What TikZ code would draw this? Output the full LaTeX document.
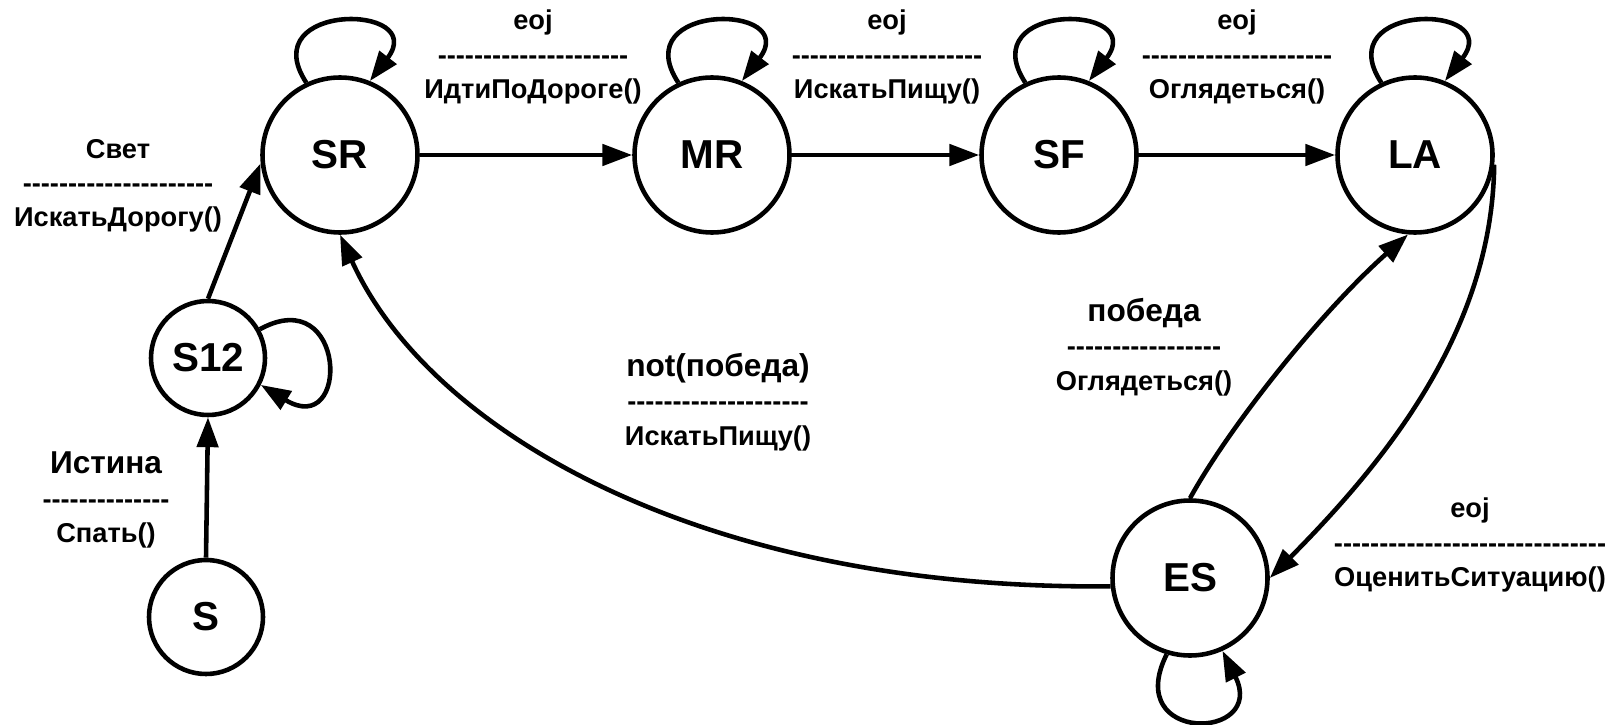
\documentclass[tikz,border=0pt]{standalone}
\usepackage{fontspec}
\newfontfamily\diafont{Liberation Sans}[Ligatures=TeXOff]
\usetikzlibrary{arrows.meta}

\begin{document}
\begin{tikzpicture}[
  x=1cm,
  y=1cm,
  line/.style={draw=black,line width=2.6pt},
  arrow/.style={line,-{Triangle[length=17pt,width=12pt]}},
  state/.style={line,circle,minimum size=3.1cm,inner sep=0pt,
                font=\diafont\bfseries\fontsize{23}{27}\selectfont},
  smallstate/.style={state,minimum size=2.28cm},
  trans/.style={align=center,inner sep=0pt,
                font=\diafont\bfseries\fontsize{15.5}{19.5}\selectfont}
]
\useasboundingbox (0,0) rectangle (32.34,14.48);

% ---------------------------------------------------------------- states
\node[state] (sr) at (6.80,11.38) {SR};
\node[state] (mr) at (14.24,11.38) {MR};
\node[state] (sf) at (21.18,11.38) {SF};
\node[state] (la) at (28.30,11.38) {LA};
\node[smallstate] (s12) at (4.16,7.32) {S12};
\node[smallstate] (s) at (4.12,2.14) {S};
\node[state] (es) at (23.80,2.92) {ES};

% ---------------------------------------------------------------- main row
\draw[arrow] (sr.east) -- (mr.west);
\draw[arrow] (mr.east) -- (sf.west);
\draw[arrow] (sf.east) -- (la.west);
\node[trans] (t1) at (10.66,13.34) {eoj\\---------------------\\ИдтиПоДороге()};
\node[trans] (t2) at (17.74,13.34) {eoj\\---------------------\\ИскатьПищу()};
\node[trans] (t3) at (24.74,13.34) {eoj\\---------------------\\Оглядеться()};

% self loops on top
\draw[arrow] (sr.115) .. controls +(-1.06,1.62) and +(1.20,1.56) .. (sr.68);
\draw[arrow] (mr.115) .. controls +(-1.06,1.62) and +(1.20,1.56) .. (mr.68);
\draw[arrow] (sf.115) .. controls +(-1.06,1.62) and +(1.20,1.56) .. (sf.68);
\draw[arrow] (la.115) .. controls +(-1.06,1.62) and +(1.20,1.56) .. (la.68);

% ---------------------------------------------------------------- start chain
\draw[arrow] (s.north) -- (s12.south);
\node[trans] (t4) at (2.12,4.48) {{\fontsize{18}{19.5}\selectfont Истина}\\--------------\\Спать()};
\draw[arrow] (s12.29) .. controls +(1.74,0.96) and +(1.80,-1.10) .. (s12.-27);
\draw[arrow] (s12.north) -- (sr.186);
\node[trans] (t5) at (2.36,10.76) {Свет\\---------------------\\ИскатьДорогу()};

% ---------------------------------------------------------------- ES cycle
\draw[arrow] (la.-7) .. controls +(-0.04,-3.30) and +(2.34,2.36) .. (es.east);
\node[trans] (t6) at (29.40,3.58) {eoj\\------------------------------\\ОценитьСитуацию()};
\draw[arrow] (es.north) .. controls +(0.78,1.42) and +(-1.76,-1.56) .. (la.265);
\node[trans] (t7) at (22.88,7.54) {{\fontsize{18}{19.5}\selectfont победа}\\-----------------\\Оглядеться()};
\draw[arrow] (es.186) .. controls +(-8.20,-0.08) and +(1.78,-3.92) .. (sr.south);
\node[trans] (t8) at (14.36,6.44) {{\fontsize{18}{19.5}\selectfont not(победа)}\\--------------------\\ИскатьПищу()};
\draw[arrow] (es.253) .. controls +(-0.90,-1.80) and +(0.90,-1.80) .. (es.294);

\end{tikzpicture}
\end{document}
